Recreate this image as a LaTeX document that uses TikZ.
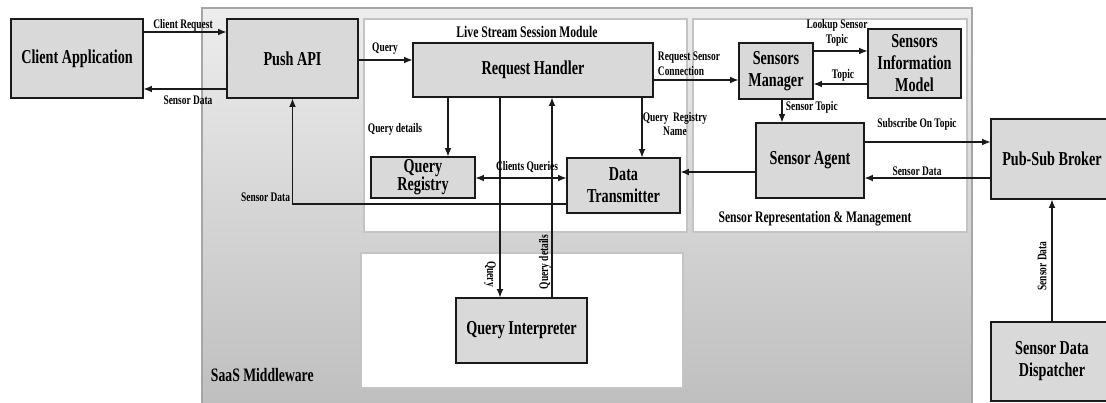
\documentclass[tikz,border=0pt]{standalone}
\usepackage{fontspec}
\setmainfont{Liberation Serif}[FakeStretch=0.72]
\usetikzlibrary{arrows.meta,calc,positioning}
\definecolor{mwink}{HTML}{1A1A1A}
\definecolor{mwbox}{HTML}{D9D9D9}
\definecolor{mwframe}{HTML}{A6A6A6}
\definecolor{mwpanel}{HTML}{C4C4C4}
\definecolor{mwtop}{HTML}{EDEDED}
\definecolor{mwbottom}{HTML}{BDBDBD}
\tikzset{
  every picture/.style={font=\bfseries\fontsize{9.3}{10.5}\selectfont,text=black},
  block/.style={draw=mwink,fill=mwbox,line width=0.8pt,inner sep=1pt,align=center,
    font=\bfseries\fontsize{14}{15.6}\selectfont},
  link/.style={draw=mwink,line width=0.8pt,-{Latex[length=2.1mm,width=1.7mm]}},
  both/.style={link,{Latex[length=2.1mm,width=1.7mm]}-{Latex[length=2.1mm,width=1.7mm]}},
  edge label/.style={inner sep=0.5pt,align=center},
  panel/.style={draw=mwpanel,fill=white,line width=1.2pt},
  title/.style={inner sep=0.5pt,font=\bfseries\fontsize{11.5}{13}\selectfont},
}
\begin{document}
\begin{tikzpicture}[x=0.025cm,y=-0.025cm]
  \path[use as bounding box] (0,0) rectangle (1106,402);
  \clip (0,0) rectangle (1106,402);
  % middleware frame and the three white panels
  \shadedraw[top color=mwtop,bottom color=mwbottom,draw=mwframe,line width=1.2pt]
    (202,8) rectangle (972,420);
  \draw[panel] (364,19) rectangle (687,232);
  \draw[panel] (693,19) rectangle (967,232);
  \draw[panel] (361,253) rectangle (683,388);
  \node[title] (tlss) at (527,32) {Live Stream Session Module};
  \node[title] (tsrm) at (815,219) {Sensor Representation \& Management};
  \node[title,anchor=west,font=\bfseries\fontsize{13.5}{15}\selectfont] (tsaas) at (210,375) {SaaS Middleware};
  % blocks
  \node[block,minimum width=3.3cm,minimum height=1.975cm] (ca) at (77,58.5) {Client Application};
  \node[block,minimum width=3.275cm,minimum height=1.975cm] (pa) at (292.5,58.5) {Push API};
  \node[block,minimum width=6cm,minimum height=1.35cm] (rh) at (533,70) {Request Handler};
  \node[block,minimum width=2.6cm,minimum height=1.025cm,inner sep=0pt,
    font=\bfseries\fontsize{14}{12.8}\selectfont] (qr) at (423,177.5) {Query\\Registry};
  \node[block,minimum width=2.825cm,minimum height=1.375cm] (dt) at (623.5,185.5) {Data\\Transmitter};
  \node[block,minimum width=3.275cm,minimum height=1.625cm] (qi) at (521.5,330.5) {Query Interpreter};
  \node[block,minimum width=1.85cm,minimum height=1.4cm] (sm) at (776,71) {Sensors\\Manager};
  \node[block,minimum width=2.325cm,minimum height=1.725cm,inner sep=0pt] (sim) at (914.5,63.5) {Sensors\\Information\\Model};
  \node[block,minimum width=2.7cm,minimum height=1.875cm] (sa) at (810,160.5) {Sensor Agent};
  \node[block,minimum width=3.05cm,minimum height=2cm] (psb) at (1052,159) {Pub-Sub Broker};
  \node[block,minimum width=3.05cm,minimum height=1.975cm] (sdd) at (1052,361.5) {Sensor Data\\Dispatcher};
  % connectors
  \draw[link] (ca.east |- 0,32) -- (pa.west |- 0,32);
  \draw[link] (pa.west |- 0,89) -- (ca.east |- 0,89);
  \draw[link] (pa.east |- 0,60) -- (rh.west |- 0,60);
  \draw[link] (rh.east |- 0,80) -- (sm.west |- 0,80);
  \draw[link] (sm.east |- 0,51) -- (sim.west |- 0,51);
  \draw[link] (sim.west |- 0,84) -- (sm.east |- 0,84);
  \draw[link] (sm.south -| 782,0) -- (sa.north -| 782,0);
  \draw[link] (sa.east |- 0,142) -- (psb.west |- 0,142);
  \draw[link] (psb.west |- 0,178) -- (sa.east |- 0,178);
  \draw[link] (sdd.north) -- (psb.south);
  \draw[link] (sa.west |- 0,172) -- (dt.east |- 0,172);
  \draw[both] (qr.east |- 0,178) -- (dt.west |- 0,178);
  \draw[link] (dt.west |- 0,204) -| (pa.south);
  \draw[link] (rh.south -| 448,0) -- (qr.north -| 448,0);
  \draw[link] (rh.south -| 500,0) -- (qi.north -| 500,0);
  \draw[link] (qi.north -| 552,0) -- (rh.south -| 552,0);
  \draw[link] (rh.south -| 642,0) -- (dt.north -| 642,0);
  % connector labels
  \node[edge label] (lcr) at (183,25) {Client Request};
  \node[edge label] (lsda) at (188,100) {Sensor Data};
  \node[edge label] (lq) at (385,49) {Query};
  \node[edge label,align=left,anchor=west] (lrsc) at (657,64) {Request Sensor\\Connection};
  \node[edge label] (llst) at (837,33) {Lookup Sensor\\Topic};
  \node[edge label] (lt) at (843,75) {Topic};
  \node[edge label,anchor=west] (lst) at (785,107) {Sensor Topic};
  \node[edge label] (lsot) at (917,124) {Subscribe On Topic};
  \node[edge label] (lsdb) at (917,171) {Sensor Data};
  \node[edge label,rotate=90] (lsdc) at (1042,266) {Sensor Data};
  \node[edge label] (lcq) at (527,167) {Clients Queries};
  \node[edge label,anchor=east] (lsdd) at (291,197) {Sensor Data};
  \node[edge label] (lqd) at (395,129) {Query details};
  \node[edge label] (lqrn) at (675,124) {Query\ \ Registry\\Name};
  \node[edge label,rotate=-90] (lqy) at (490,274) {Query};
  \node[edge label,rotate=90] (lqdv) at (545,262) {Query details};
\end{tikzpicture}
\end{document}
